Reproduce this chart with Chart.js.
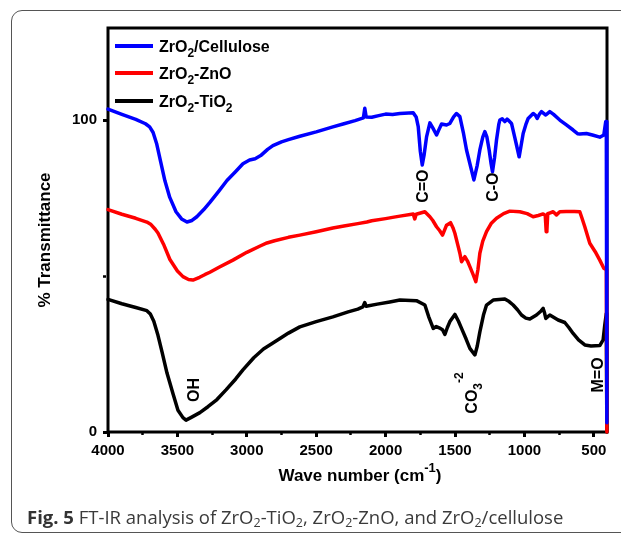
<!DOCTYPE html>
<html>
<head>
<meta charset="utf-8">
<script src="https://cdn.jsdelivr.net/npm/chart.js@4.4.0/dist/chart.umd.min.js"></script>
<style>
  html, body { margin: 0; padding: 0; background: #fff; }
  #wrap { position: relative; width: 621px; height: 535px; overflow: hidden; }
  #box { position: absolute; left: 11px; top: 10px; width: 700px; height: 521px; border: 1.5px solid #555; border-radius: 11px; }
  #chart { position: absolute; left: 0; top: 0; }
  #caption { position: absolute; left: 27px; top: 504px; font-family: 'Open Sans', sans-serif; font-size: 18.5px; line-height: normal; color: #3a3a3a; white-space: nowrap; }
  #caption b { color: #333; }
  #caption sub { font-size: 12.5px; line-height: 0; vertical-align: -3px; }
</style>
</head>
<body>
<div id="wrap">
  <div id="box"></div>
  <canvas id="chart" width="621" height="535"></canvas>
  <div id="caption"><b>Fig. 5</b> FT-IR analysis of ZrO<sub>2</sub>-TiO<sub>2</sub>, ZrO<sub>2</sub>-ZnO, and ZrO<sub>2</sub>/cellulose</div>
</div>
<script>
// FT-IR spectra (wave number cm-1 / % transmittance)
const cellWave = [4000, 3900, 3800, 3730, 3700, 3675, 3650, 3620, 3590, 3555, 3510, 3470, 3431, 3395, 3360, 3310, 3266, 3200, 3143, 3080,
  3028, 2980, 2940, 2900, 2850, 2812, 2750, 2700, 2618, 2500, 2380, 2300, 2220, 2160, 2150, 2140, 2100, 2050, 2000, 1950,
  1897, 1801, 1780, 1765, 1750, 1736, 1722, 1705, 1681, 1660, 1633, 1615, 1597, 1561, 1537, 1510, 1489, 1465, 1440, 1417,
  1390, 1364, 1340, 1321, 1300, 1285, 1270, 1254, 1240, 1230, 1215, 1201, 1185, 1177, 1160, 1141, 1125, 1117, 1093, 1070,
  1057, 1038, 1025, 1009, 990, 973, 937, 920, 908, 890, 877, 846, 817, 790, 745, 700, 649, 615, 601, 553,
  510, 457, 428, 414, 410, 406];
const cellT = [103.5, 101.8, 100.2, 98.8, 97.8, 96, 92.5, 86.5, 80.5, 75.2, 70.6, 68.3, 67.3, 67.8, 69, 71.3, 73.6, 77.3, 80.6, 83.5,
  86, 87.2, 87.6, 88.6, 90.6, 91.8, 93, 93.7, 94.8, 96.2, 97.8, 98.8, 99.8, 100.7, 103.8, 101, 100.9, 101.4, 101.9, 101.8,
  102.1, 102.3, 101, 97.9, 90, 85.6, 89, 94.6, 99.1, 97.5, 95.2, 97, 98.7, 98.4, 98.9, 101, 102.1, 101.1, 96, 90.4,
  85.5, 80.8, 85.5, 90.4, 94.5, 96.3, 94.5, 90.4, 86, 83.4, 88, 93.6, 98.5, 100, 100.4, 99.5, 100.3, 100, 98.9, 94.5,
  92, 88.2, 91.5, 95.7, 98.5, 100.5, 102.1, 101.5, 100.5, 102, 102.7, 101.6, 102.7, 101.8, 100, 98.5, 96.8, 95.6, 95.5, 95.7,
  95.2, 94.5, 95.2, 99.5, 99.5, 3];

const znoWave = [4000, 3900, 3800, 3720, 3690, 3660, 3640, 3600, 3554, 3500, 3460, 3420, 3388, 3340, 3300, 3266, 3200, 3100, 3000, 2900,
  2855, 2800, 2700, 2618, 2500, 2380, 2300, 2200, 2135, 2100, 2000, 1950, 1897, 1801, 1790, 1780, 1717, 1681, 1660, 1633,
  1610, 1590, 1561, 1532, 1515, 1501, 1480, 1465, 1453, 1429, 1410, 1393, 1370, 1350, 1335, 1321, 1300, 1273, 1240, 1201,
  1150, 1105, 1033, 980, 937, 900, 865, 850, 843, 838, 832, 824, 793, 769, 745, 700, 640, 601, 585, 565,
  529, 490, 457, 428, 410, 406];
const znoT = [71.3, 69.8, 68.5, 67.3, 66.5, 65, 63.8, 60.2, 55.3, 51.6, 49.8, 48.9, 48.7, 49.6, 50.5, 51.2, 52.8, 55.1, 57.6, 59.7,
  60.6, 61.3, 62.4, 63.1, 64.2, 65.4, 66, 66.8, 67.3, 67.7, 68.4, 68.8, 69.2, 69.9, 68.3, 69.8, 70.6, 69, 67.8, 65.8,
  64.5, 63.1, 66.3, 67.1, 65.5, 63.7, 60, 57.3, 54.6, 56.2, 54.8, 53, 50.5, 48.2, 52, 57.3, 61.2, 64.2, 66.8, 68.5,
  70, 70.8, 70.6, 70, 69, 69.4, 69.9, 69.5, 64.2, 64.5, 70, 70.1, 70.6, 69.6, 70.6, 70.7, 70.7, 70.6, 68.5, 65.8,
  60.5, 57.8, 55.1, 52.5, 52, 0];

const tioWave = [4000, 3900, 3800, 3720, 3695, 3670, 3640, 3610, 3575, 3530, 3496, 3460, 3438, 3400, 3338, 3280, 3215, 3150, 3080, 3028,
  2950, 2880, 2812, 2750, 2700, 2618, 2500, 2380, 2270, 2200, 2164, 2150, 2140, 2060, 1970, 1897, 1778, 1717, 1690, 1657,
  1635, 1614, 1590, 1573, 1555, 1537, 1501, 1475, 1453, 1420, 1393, 1357, 1340, 1321, 1295, 1273, 1225, 1141, 1110, 1081,
  1050, 1021, 990, 961, 913, 880, 865, 855, 846, 817, 757, 709, 680, 649, 610, 565, 520, 457, 433, 421,
  410, 406];
const tioT = [42.5, 41.1, 39.9, 38.9, 37.8, 35.5, 31, 25.5, 18.9, 12, 7, 4.6, 3.8, 4.7, 6.2, 8.1, 10.4, 13.5, 17, 19.9,
  23.8, 26.6, 28.5, 30.3, 31.7, 33.7, 35.4, 36.9, 38.5, 39.4, 40.1, 41.5, 40.3, 41, 41.7, 42.3, 42.1, 40.7, 37, 33.2,
  33.8, 33.4, 32.8, 31.3, 33.5, 35.4, 37.7, 35.5, 33.2, 29.8, 26.8, 24.7, 27.5, 32.1, 37.5, 40.7, 42.3, 42.6, 41.8, 40.7,
  39.2, 37.5, 36.5, 36.2, 37.5, 38.8, 39.6, 38.2, 36.4, 37.5, 35.9, 35.1, 33.5, 31.6, 29.5, 27.9, 27.6, 27.7, 29.5, 34.3,
  38, 0];

const seriesNames = ['ZrO_{2}/Cellulose', 'ZrO_{2}-ZnO', 'ZrO_{2}-TiO_{2}'];
const seriesColors = ['#0000ff', '#ff0000', '#000000'];
const xTickLabels = [4000, 3500, 3000, 2500, 2000, 1500, 1000, 500];
const yTickLabels = [0, 100];

// band labels: text, wave number, transmittance at the label centre
const bandText = ['C=O', 'C-O', 'OH', 'CO_{3}^{-2}', 'M=O'];
const bandWave = [1736, 1228, 3388, 1382, 478];
const bandT = [78.8, 78.5, 13.5, 12.5, 18.3];

const FONT = '"Liberation Sans", Arial, sans-serif';

function parseRich(s) {
  const out = [];
  const re = /([_^])\{([^}]*)\}|([^_^]+)/g;
  let m;
  while ((m = re.exec(s))) {
    if (m[3]) out.push({ t: m[3], k: 'n' });
    else out.push({ t: m[2], k: m[1] === '_' ? 'sub' : 'sup' });
  }
  return out;
}

// draws text with _{sub} and ^{sup}; returns width
function rich(ctx, s, x, y, size, draw, supRaise) {
  let cx = x;
  for (const p of parseRich(s)) {
    const fs = p.k === 'n' ? size : Math.round(size * 0.75);
    ctx.font = 'bold ' + fs + 'px ' + FONT;
    const w = ctx.measureText(p.t).width;
    const dy = p.k === 'sub' ? size * 0.32 : p.k === 'sup' ? -size * (supRaise || 0.5) : 0;
    if (draw) ctx.fillText(p.t, cx, y + dy);
    cx += w;
  }
  return cx - x;
}

const mk = (w, t) => w.map((v, i) => ({ x: v, y: t[i] }));

const framePlugin = {
  id: 'frame',
  beforeDatasetsDraw(chart) {
    const { ctx, chartArea: a } = chart;
    ctx.save();
    ctx.strokeStyle = '#000';
    ctx.lineWidth = 3;
    ctx.strokeRect(a.left, a.top, a.right - a.left, a.bottom - a.top);
    ctx.restore();
  }
};

const textPlugin = {
  id: 'texts',
  afterDatasetsDraw(chart) {
    const { ctx, chartArea: a, scales } = chart;
    ctx.save();
    ctx.fillStyle = '#000';
    ctx.textBaseline = 'alphabetic';
    ctx.textAlign = 'left';

    // legend
    const rows = [18, 45, 73];
    seriesNames.forEach((name, i) => {
      const y = a.top + rows[i];
      ctx.strokeStyle = seriesColors[i];
      ctx.lineWidth = 4;
      ctx.beginPath();
      ctx.moveTo(a.left + 7, y);
      ctx.lineTo(a.left + 45, y);
      ctx.stroke();
      ctx.fillStyle = '#000';
      rich(ctx, name, a.left + 51, y + 5.5, 16, true);
    });

    // band labels, rotated
    bandText.forEach((t, i) => {
      const px = scales.x.getPixelForValue(bandWave[i]);
      const py = scales.y.getPixelForValue(bandT[i]);
      ctx.save();
      ctx.translate(px, py);
      ctx.rotate(-Math.PI / 2);
      const w = rich(ctx, t, 0, 0, 16, false, 0.9);
      rich(ctx, t, -w / 2, 5.7, 16, true, 0.9);
      ctx.restore();
    });

    // axis titles
    ctx.save();
    ctx.translate(44, 240);
    ctx.rotate(-Math.PI / 2);
    ctx.font = 'bold 17px ' + FONT;
    const yt = '% Transmittance';
    ctx.fillText(yt, -ctx.measureText(yt).width / 2, 6);
    ctx.restore();

    const xt = 'Wave number (cm^{-1})';
    const xw = rich(ctx, xt, 0, 0, 17, false, 0.55);
    rich(ctx, xt, 360 - xw / 2, 481, 17, true, 0.55);
    ctx.restore();
  }
};

new Chart(document.getElementById('chart'), {
  type: 'line',
  data: {
    datasets: [
      { label: 'ZrO2/Cellulose', data: mk(cellWave, cellT), borderColor: seriesColors[0] },
      { label: 'ZrO2-ZnO', data: mk(znoWave, znoT), borderColor: seriesColors[1] },
      { label: 'ZrO2-TiO2', data: mk(tioWave, tioT), borderColor: seriesColors[2] }
    ]
  },
  options: {
    responsive: false,
    devicePixelRatio: 1,
    animation: false,
    layout: { padding: { top: 28, right: 14, left: 0, bottom: 0 } },
    elements: {
      point: { radius: 0 },
      line: { borderWidth: 3.5, tension: 0, borderJoinStyle: 'round', borderCapStyle: 'round', fill: false }
    },
    datasets: { line: { clip: false } },
    plugins: { legend: { display: false }, tooltip: { enabled: false } },
    scales: {
      x: {
        type: 'linear', reverse: true, min: 405, max: 4000,
        afterFit: s => { s.height = 103; },
        border: { display: false },
        grid: {
          drawOnChartArea: false, drawTicks: true, tickLength: 5, tickColor: '#000',
          tickWidth: c => (c.tick && c.tick.value % 500 === 0 ? 3 : 2.5),
          tickBorderDash: c => (c.tick && c.tick.value % 500 === 0 ? [] : [3, 50])
        },
        ticks: {
          stepSize: 250, includeBounds: false, autoSkip: false, maxRotation: 0, padding: 5,
          color: '#000', font: { family: FONT, size: 15, weight: 'bold' },
          callback: v => (xTickLabels.includes(v) ? String(v) : '')
        }
      },
      y: {
        min: 0, max: 129.5,
        afterFit: s => { s.width = 108; },
        border: { display: false },
        grid: {
          drawOnChartArea: false, drawTicks: true, tickLength: 5, tickColor: '#000',
          tickWidth: c => (c.tick && yTickLabels.includes(c.tick.value) ? 3 : 2.5),
          tickBorderDash: c => (c.tick && yTickLabels.includes(c.tick.value) ? [] : [3, 50])
        },
        ticks: {
          stepSize: 50, includeBounds: false, padding: 6,
          color: '#000', font: { family: FONT, size: 15, weight: 'bold' },
          callback: v => (yTickLabels.includes(v) ? String(v) : '')
        }
      }
    }
  },
  plugins: [framePlugin, textPlugin]
});
</script>
</body>
</html>
